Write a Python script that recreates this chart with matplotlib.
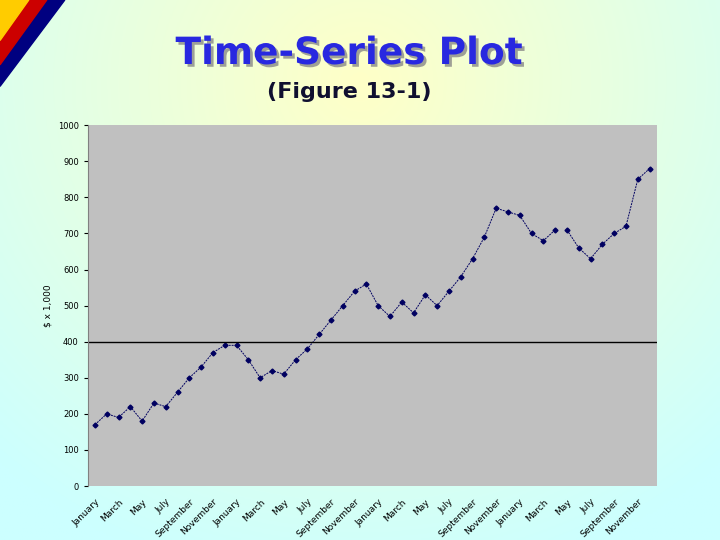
import matplotlib
matplotlib.use("Agg")
import matplotlib.pyplot as plt
import matplotlib.patheffects as pe
import numpy as np

months = ["January", "March", "May", "July", "September", "November"] * 4
values = [170, 200, 190, 220, 180, 230, 220, 260, 300, 330, 370, 390,
          390, 350, 300, 320, 310, 350, 380, 420, 460, 500, 540, 560,
          500, 470, 510, 480, 530, 500, 540, 580, 630, 690, 770, 760,
          750, 700, 680, 710, 710, 660, 630, 670, 700, 720, 850, 880]

fig = plt.figure(figsize=(7.2, 5.4), dpi=100)

# slide background: cyan with pale yellow glow
bg = fig.add_axes([0, 0, 1, 1])
yy, xx = np.mgrid[0:1:200j, 0:1:200j]
d = np.clip(np.hypot((xx - 0.5) / 0.75, (yy - 0.15) / 0.95), 0, 1)
c1 = np.array([1.0, 1.0, 0.78])
c2 = np.array([0.8, 1.0, 1.0])
img = c1 * (1 - d[..., None]) + c2 * d[..., None]
bg.imshow(img, extent=[0, 1, 0, 1], aspect="auto", origin="upper")
bg.fill([0, 0.09, 0], [1, 1, 0.84], color="#000080")
bg.fill([0, 0.065, 0], [1, 1, 0.88], color="#cc0000")
bg.fill([0, 0.04, 0], [1, 1, 0.925], color="#ffcc00")
bg.set_xlim(0, 1); bg.set_ylim(0, 1)
bg.axis("off")

fig.text(0.485, 0.9, "Time-Series Plot", ha="center", va="center", fontsize=27,
         fontweight="bold", color="#2828e0",
         path_effects=[pe.withSimplePatchShadow(offset=(2, -2), shadow_rgbFace="#888888", alpha=0.8)])
fig.text(0.485, 0.83, "(Figure 13-1)", ha="center", va="center", fontsize=16,
         fontweight="bold", color="#101030")

ax = fig.add_axes([0.122, 0.1, 0.79, 0.668])
ax.set_facecolor("#c0c0c0")
x = np.arange(len(values))
ax.plot(x[:40], values[:40], color="#000060", lw=0.7, ls=(0, (2, 1)), marker="D", ms=2.5)
ax.plot(x[40:], values[40:], color="#000060", lw=0.7, ls=(0, (2, 1)), marker="D", ms=2.5)
ax.axhline(400, color="black", lw=1)
ax.set_xlim(-0.6, len(values) - 0.4)
ax.set_ylim(0, 1000)
ax.set_yticks(range(0, 1001, 100))
ax.tick_params(axis="y", labelsize=6, length=3)
ax.set_xticks(x[::2])
ax.set_xticklabels(months, rotation=45, ha="right", fontsize=6.5, rotation_mode="anchor")
ax.tick_params(axis="x", length=0, pad=8)
ax.set_ylabel("$ x 1,000", fontsize=6.5)
for s in ["top", "right", "bottom"]:
    ax.spines[s].set_visible(False)
ax.spines["left"].set_color("#808080")

fig.savefig("out.png")
